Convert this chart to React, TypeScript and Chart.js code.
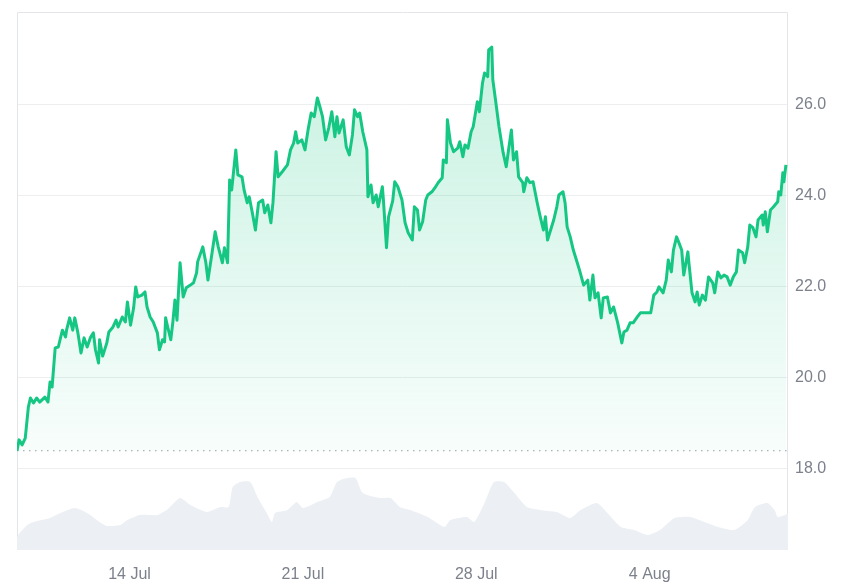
import React, { useEffect, useRef } from "react";
import { Chart, registerables } from "chart.js";

Chart.register(...registerables);

// Hours since 9 Jul 11:00
const priceHours = [
  0, 2, 5, 8, 11, 13, 16, 19, 22, 27, 30, 32, 34, 37, 40, 44, 47, 48, 51, 54,
  56, 59, 62, 65, 68, 71, 74, 76, 79, 80, 83, 87, 89, 93, 96, 98, 102, 105, 107, 110,
  113, 115, 117, 121, 124, 126, 129, 132, 136, 138, 141, 143, 144, 146, 149, 151, 153, 155, 158, 161,
  164, 168, 171, 174, 175, 180, 183, 185, 189, 192, 195, 199, 201, 204, 206, 208, 212, 214, 218, 220,
  223, 225, 228, 231, 234, 238, 240, 243, 246, 248, 251, 253, 257, 262, 265, 268, 270, 272, 276, 279,
  282, 285, 288, 291, 293, 296, 299, 302, 305, 306, 308, 310, 312, 316, 319, 322, 325, 327, 330, 332,
  335, 339, 340, 343, 345, 348, 350, 354, 355, 358, 360, 364, 366, 369, 373, 376, 379, 383, 385, 388,
  390, 393, 396, 398, 402, 405, 408, 412, 413, 416, 417, 420, 423, 427, 429, 432, 434, 437, 440, 442,
  446, 448, 451, 453, 456, 457, 460, 461, 464, 467, 471, 474, 476, 479, 481, 484, 486, 490, 491, 494,
  497, 500, 504, 507, 510, 512, 514, 517, 520, 523, 525, 529, 531, 533, 536, 539, 542, 545, 549, 553,
  555, 558, 560, 563, 566, 568, 572, 575, 578, 582, 584, 586, 588, 591, 594, 597, 601, 604, 609, 614,
  617, 620, 622, 626, 629, 631, 634, 636, 639, 641, 644, 646, 650, 651, 654, 657, 659, 661, 664, 667,
  670, 674, 676, 679, 682, 685, 688, 691, 694, 697, 699, 703, 705, 708, 710, 713, 716, 718, 722, 723,
  725, 727, 730, 733, 737, 738, 740, 742, 743, 745,
];

const prices = [
  18.4, 18.64, 18.53, 18.68, 19.36, 19.56, 19.45, 19.56, 19.47, 19.58, 19.47, 19.91, 19.8, 20.66, 20.68, 21.05, 20.9, 21.05, 21.32, 21.05,
  21.32, 20.99, 20.55, 20.88, 20.68, 20.88, 20.99, 20.62, 20.33, 20.84, 20.48, 20.77, 21.01, 21.12, 21.27, 21.12, 21.34, 21.23, 21.67, 21.16,
  21.54, 22.0, 21.78, 21.82, 21.89, 21.56, 21.34, 21.23, 20.99, 20.62, 20.84, 20.79, 21.32, 21.12, 20.84, 21.23, 21.71, 21.27, 22.53, 21.78,
  21.98, 22.04, 22.09, 22.31, 22.55, 22.88, 22.53, 22.15, 22.75, 23.21, 22.88, 22.53, 22.86, 22.53, 24.35, 24.13, 25.01, 24.46, 24.42, 24.13,
  23.85, 23.98, 23.63, 23.25, 23.85, 23.91, 23.63, 23.8, 23.41, 23.85, 24.97, 24.42, 24.53, 24.68, 25.01, 25.16, 25.41, 25.16, 25.23, 25.01,
  25.45, 25.82, 25.74, 26.15, 26.0, 25.74, 25.23, 25.49, 25.85, 25.67, 25.3, 25.74, 25.38, 25.67, 25.08, 24.9, 25.34, 25.89, 25.74, 25.82,
  25.41, 25.01, 23.98, 24.24, 23.85, 24.02, 23.76, 24.2, 23.91, 22.86, 23.54, 23.89, 24.31, 24.2, 23.91, 23.41, 23.19, 23.03, 23.76, 23.69,
  23.25, 23.43, 23.91, 24.02, 24.09, 24.18, 24.29, 24.4, 24.79, 24.73, 25.67, 25.16, 24.97, 25.05, 25.19, 24.86, 25.12, 25.05, 25.41, 25.52,
  26.07, 25.85, 26.48, 26.7, 26.62, 27.21, 27.27, 26.55, 26.04, 25.52, 24.95, 24.64, 24.97, 25.45, 24.79, 24.97, 24.42, 24.29, 24.09, 24.4,
  24.29, 24.31, 23.85, 23.54, 23.25, 23.54, 23.03, 23.25, 23.47, 23.76, 24.02, 24.09, 23.85, 23.32, 23.1, 22.81, 22.59, 22.37, 22.04, 22.15,
  21.71, 22.26, 21.76, 21.87, 21.32, 21.76, 21.78, 21.43, 21.56, 21.21, 20.99, 20.77, 21.01, 21.05, 21.21, 21.21, 21.34, 21.43, 21.43, 21.43,
  21.82, 21.89, 22.0, 21.87, 22.15, 22.59, 22.33, 22.81, 23.1, 22.99, 22.81, 22.26, 22.77, 22.53, 21.87, 21.67, 21.89, 21.6, 21.82, 21.71,
  22.22, 22.09, 21.87, 22.33, 22.2, 22.26, 22.22, 22.04, 22.22, 22.33, 22.81, 22.75, 22.53, 22.88, 23.36, 23.3, 23.1, 23.47, 23.58, 23.36,
  23.65, 23.21, 23.69, 23.76, 23.87, 24.09, 24.02, 24.51, 24.31, 24.68,
];

const volumeHours = [
  0, 1, 10, 16, 32, 42, 56, 68, 80, 87, 100, 107, 119, 136, 145, 158, 168, 184, 197, 205,
  209, 216, 226, 233, 242, 247, 250, 262, 271, 277, 291, 303, 310, 320, 328, 334, 339, 352, 362, 371,
  381, 398, 414, 420, 436, 443, 453, 462, 472, 482, 494, 507, 523, 536, 546, 562, 572, 585, 598, 611,
  623, 637, 652, 666, 679, 695, 708, 715, 727, 734, 737, 744, 747,
];

// 24h volume, millions USD
const volumes = [
  24, 30, 50, 56, 64, 74, 84, 74, 56, 48, 50, 60, 70, 70, 80, 104, 90, 76, 86, 86,
  126, 136, 136, 106, 74, 56, 74, 80, 96, 84, 96, 106, 136, 144, 144, 116, 110, 104, 104, 86,
  80, 66, 46, 60, 66, 56, 94, 136, 136, 114, 86, 80, 76, 64, 80, 94, 74, 46, 40, 30,
  40, 64, 66, 56, 46, 40, 60, 86, 94, 80, 66, 70, 74,
];

const xTickHours = [109, 277, 445, 613];
const xTickLabels = ["14 Jul", "21 Jul", "28 Jul", "4 Aug"];
const yTickValues = [18, 20, 22, 24, 26];
const basePrice = 18.4;

const GREEN = "rgb(22,199,132)";
const TEXT = "#7c818b";

export default function App() {
  const ref = useRef<HTMLCanvasElement | null>(null);

  useEffect(() => {
    if (!ref.current) return;
    const framePlugin = {
      id: "frame",
      beforeDatasetsDraw(chart: any) {
        const { ctx, chartArea } = chart;
        ctx.save();
        ctx.strokeStyle = "#e3e5e8";
        ctx.lineWidth = 1;
        ctx.beginPath();
        ctx.moveTo(chartArea.left + 0.5, chartArea.bottom);
        ctx.lineTo(chartArea.left + 0.5, chartArea.top + 0.5);
        ctx.lineTo(chartArea.right - 0.5, chartArea.top + 0.5);
        ctx.lineTo(chartArea.right - 0.5, chartArea.bottom);
        ctx.stroke();
        ctx.restore();
      },
    };

    const chart = new Chart(ref.current, {
      type: "line",
      data: {
        datasets: [
          {
            label: "Price",
            data: priceHours.map((h, i) => ({ x: h, y: prices[i] })),
            borderColor: GREEN,
            borderWidth: 3,
            pointRadius: 0,
            tension: 0,
            borderJoinStyle: "round",
            fill: { value: basePrice },
            backgroundColor: (c: any) => {
              const { chart: ch } = c;
              const area = ch.chartArea;
              if (!area) return "rgba(22,199,132,0.15)";
              const ys = ch.scales.y;
              const g = ch.ctx.createLinearGradient(0, ys.getPixelForValue(27.3), 0, ys.getPixelForValue(basePrice));
              g.addColorStop(0, "rgba(22,199,132,0.24)");
              g.addColorStop(1, "rgba(22,199,132,0.03)");
              return g;
            },
            yAxisID: "y",
            order: 0,
          },
          {
            label: "Base",
            data: [
              { x: 0, y: basePrice },
              { x: 747, y: basePrice },
            ],
            borderColor: "#9a9ea6",
            borderWidth: 1.2,
            borderDash: [1.5, 4.5],
            pointRadius: 0,
            fill: false,
            yAxisID: "y",
            order: 1,
          },
          {
            label: "Volume",
            data: volumeHours.map((h, i) => ({ x: h, y: volumes[i] })),
            borderWidth: 0,
            borderColor: "rgba(0,0,0,0)",
            backgroundColor: "rgb(236,239,243)",
            pointRadius: 0,
            fill: "origin",
            tension: 0.2,
            yAxisID: "vol",
            order: 2,
          },
        ],
      },
      options: {
        animation: false,
        responsive: false,
        maintainAspectRatio: false,
        layout: { padding: { left: 17, top: 12, right: 0, bottom: 0 } },
        plugins: { legend: { display: false }, tooltip: { enabled: false } },
        scales: {
          x: {
            type: "linear",
            min: 0,
            max: 747,
            grid: { display: false, drawTicks: false },
            border: { display: false },
            afterBuildTicks: (s: any) => {
              s.ticks = xTickHours.map((v) => ({ value: v }));
            },
            afterFit: (s: any) => {
              s.height = 35;
              s.paddingLeft = 0;
              s.paddingRight = 0;
            },
            ticks: {
              autoSkip: false,
              maxRotation: 0,
              padding: 15,
              color: TEXT,
              font: { family: "'Liberation Sans', Arial, sans-serif", size: 16 },
              callback: (v: any) => {
                const i = xTickHours.indexOf(Number(v));
                return i >= 0 ? xTickLabels[i] : "";
              },
            },
          },
          y: {
            position: "right",
            min: 16.22,
            max: 28.04,
            grid: { color: "#eceef0", drawTicks: false, lineWidth: 1 },
            border: { display: false },
            afterBuildTicks: (s: any) => {
              s.ticks = yTickValues.map((v) => ({ value: v }));
            },
            afterFit: (s: any) => {
              s.width = 66;
              s.paddingTop = 0;
              s.paddingBottom = 0;
            },
            ticks: {
              padding: 7,
              color: TEXT,
              font: { family: "'Liberation Sans', Arial, sans-serif", size: 16 },
              callback: (v: any) => Number(v).toFixed(1),
            },
          },
          vol: {
            display: false,
            min: 0,
            max: 1076,
          },
        },
      },
      plugins: [framePlugin],
    } as any);
    return () => chart.destroy();
  }, []);

  return (
    <div style={{ position: "fixed", left: 0, top: 0, width: 854, height: 585, background: "#fff" }}>
      <canvas ref={ref} width={854} height={585} style={{ width: 854, height: 585, display: "block" }} />
    </div>
  );
}
